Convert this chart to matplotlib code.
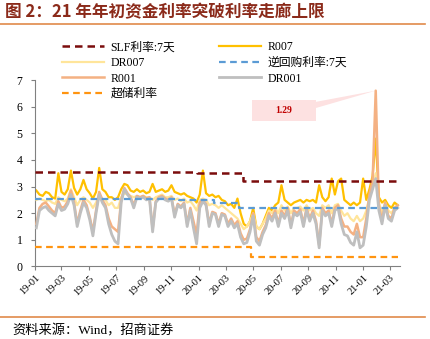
import matplotlib
matplotlib.use("Agg")
import matplotlib.pyplot as plt
import matplotlib.dates as mdates
from matplotlib.patches import Rectangle, Polygon
import pandas as pd
import numpy as np

plt.rcParams['font.family'] = ['Liberation Serif', 'Noto Sans CJK SC']

# ---------------- data (weekly readings, %) ----------------
start_date = "2019-01-04"
n_weeks = 116

r007 = [2.85, 2.7, 2.65, 2.8, 2.75, 2.6, 2.55, 3.5, 2.8, 2.7,
        2.9, 3.6, 2.95, 2.7, 2.9, 3.25, 2.9, 2.75, 2.55, 2.8,
        3.7, 2.9, 2.8, 2.6, 2.6, 2.5, 2.6, 2.9, 3.1, 3.05,
        2.85, 2.8, 2.9, 2.8, 2.85, 2.75, 2.8, 3.1, 2.8, 2.85,
        2.9, 2.8, 2.85, 3.05, 2.8, 2.75, 2.7, 2.75, 2.65, 2.6,
        2.55, 2.4, 2.7, 3.6, 2.75, 2.65, 2.7, 2.6, 2.65, 2.5,
        2.45, 2.3, 2.35, 2.2, 2.55, 2.0, 1.6, 1.5, 1.7, 2.2,
        1.5, 1.4, 1.6, 1.9, 2.2, 2.1, 2.3, 2.4, 3.05, 2.5,
        2.4, 2.3, 2.4, 2.45, 2.5, 2.4, 2.5, 2.45, 2.5, 2.4,
        3.05, 2.6, 2.45, 2.6, 3.3, 2.7, 3.2, 3.3, 2.5, 2.4,
        2.3, 2.4, 2.3, 2.4, 3.3, 2.5, 2.9, 3.4, 4.8, 2.6,
        2.4, 2.5, 2.3, 2.2, 2.4, 2.3]

dr007 = [2.5, 2.55, 2.5, 2.45, 2.5, 2.4, 2.35, 2.6, 2.5, 2.45,
         2.55, 2.9, 2.6, 2.3, 2.5, 2.6, 2.5, 2.4, 2.2, 2.4,
         2.7, 2.55, 2.5, 2.3, 2.4, 2.2, 2.2, 2.6, 2.75, 2.7,
         2.65, 2.6, 2.65, 2.6, 2.65, 2.6, 2.6, 2.5, 2.6, 2.65,
         2.7, 2.6, 2.6, 2.65, 2.5, 2.55, 2.45, 2.55, 2.4, 2.45,
         2.3, 2.1, 2.5, 2.55, 2.5, 2.3, 2.35, 2.3, 2.2, 2.3,
         2.2, 2.1, 2.0, 1.9, 1.8, 1.6, 1.4, 1.5, 1.7, 2.0,
         1.5, 1.4, 1.6, 1.8, 2.1, 2.0, 2.2, 2.0, 2.3, 2.1,
         2.25, 2.0, 2.2, 2.2, 2.25, 2.1, 2.3, 2.1, 2.2, 2.0,
         1.9, 2.3, 2.2, 2.3, 2.0, 2.3, 2.35, 2.1, 1.9, 2.0,
         1.8, 1.7, 1.9, 1.7, 1.8, 2.1, 2.6, 3.0, 3.5, 2.4,
         2.0, 2.4, 2.1, 2.0, 2.2, 2.2]

r001 = [1.6, 2.2, 2.35, 2.4, 2.25, 2.1, 2.0, 2.45, 2.2, 2.25,
        2.45, 2.85, 2.4, 1.6, 2.1, 2.5, 2.3, 1.85, 1.3, 2.1,
        2.8, 2.5, 2.3, 1.8, 1.5, 1.4, 1.3, 2.5, 2.95, 2.75,
        2.6, 2.3, 2.65, 2.6, 2.65, 2.55, 2.6, 1.4, 2.45, 2.6,
        2.65, 2.55, 2.5, 2.6, 1.95, 2.35, 2.25, 2.4, 1.6, 2.2,
        1.7, 1.2, 2.4, 2.5, 2.35, 1.6, 2.05, 2.0, 1.6, 2.0,
        1.95, 1.6, 1.8, 1.55, 1.7, 1.25, 1.0, 1.05, 1.4, 2.0,
        1.1, 0.95, 1.3, 1.55, 2.0, 1.8, 2.1, 1.6, 2.1, 1.9,
        2.2, 1.55, 2.1, 2.0, 2.15, 1.6, 2.2, 1.8, 2.1, 1.7,
        0.8, 2.2, 2.0, 2.1, 1.6, 2.2, 2.3, 1.8, 1.5, 1.5,
        1.3, 1.2, 1.6, 1.1, 1.1, 1.8, 2.7, 3.2, 6.6, 2.3,
        1.7, 2.4, 1.9, 1.8, 2.2, 2.3]

dr001 = [1.45, 2.1, 2.2, 2.25, 2.1, 2.0, 1.9, 2.35, 2.1, 2.15,
         2.35, 2.7, 2.3, 1.5, 2.0, 2.4, 2.2, 1.75, 1.15, 2.0,
         2.7, 2.4, 2.2, 1.6, 1.2, 0.95, 0.85, 2.4, 2.9, 2.7,
         2.55, 2.2, 2.6, 2.55, 2.6, 2.5, 2.55, 1.3, 2.4, 2.55,
         2.6, 2.5, 2.45, 2.55, 1.85, 2.3, 2.2, 2.35, 1.5, 2.1,
         1.45, 0.85, 2.2, 2.45, 2.3, 1.5, 2.0, 1.95, 1.5, 1.95,
         1.9, 1.5, 1.7, 1.45, 1.6, 1.1, 0.85, 0.9, 1.3, 1.9,
         0.95, 0.8, 1.2, 1.45, 1.9, 1.7, 2.0, 1.5, 2.0, 1.8,
         2.1, 1.45, 2.0, 1.9, 2.05, 1.5, 2.1, 1.7, 2.0, 1.6,
         0.7, 2.1, 1.9, 2.0, 1.5, 2.1, 2.2, 1.6, 1.2, 1.15,
         0.9, 0.8, 1.3, 0.7, 0.8, 1.5, 2.5, 2.9, 3.3, 2.1,
         1.6, 2.3, 1.8, 1.7, 2.1, 2.2]

# policy rates (step changes)
slf_dates = ["2019-01-01", "2019-12-27", "2020-04-08"]
slf_vals = [3.55, 3.5, 3.2]
rr_dates = ["2019-01-01", "2019-11-18", "2020-02-03", "2020-03-31"]
rr_vals = [2.55, 2.5, 2.4, 2.2]
er_dates = ["2019-01-01", "2020-04-27"]
er_vals = [0.72, 0.35]
end_date = "2021-03-19"

tick_labels = ["19-01", "19-03", "19-05", "19-07", "19-09", "19-11", "20-01",
               "20-03", "20-05", "20-07", "20-09", "20-11", "21-01", "21-03"]
annot_text = "1.29"

# ---------------- figure ----------------
dates = pd.date_range(start_date, periods=n_weeks, freq="7D")

fig = plt.figure(figsize=(4.31, 3.39), dpi=100)
ax = fig.add_axes([0.0812, 0.2139, 0.8468, 0.5501])

def step_series(ds, vs):
    x = list(pd.to_datetime(ds)) + [pd.Timestamp(end_date)]
    y = list(vs) + [vs[-1]]
    return x, y

c_slf = "#7B0C0C"
c_r007 = "#FFC000"
c_dr007 = "#FFE59A"
c_rr = "#5B9BD5"
c_r001 = "#F4B183"
c_dr001 = "#BFBFBF"
c_er = "#FF9410"

h_r007, = ax.plot(dates, r007, color=c_r007, lw=1.6, zorder=2)
h_dr007, = ax.plot(dates, dr007, color=c_dr007, lw=1.6, zorder=3)
h_r001, = ax.plot(dates, r001, color=c_r001, lw=1.8, zorder=4)
h_dr001, = ax.plot(dates, dr001, color=c_dr001, lw=2.0, zorder=5)

x, y = step_series(slf_dates, slf_vals)
h_slf, = ax.plot(x, y, color=c_slf, lw=1.8, ls=(0, (3, 2)), drawstyle="steps-post", zorder=6)
x, y = step_series(rr_dates, rr_vals)
h_rr, = ax.plot(x, y, color=c_rr, lw=1.6, ls=(0, (3, 2)), drawstyle="steps-post", zorder=6)
x, y = step_series(er_dates, er_vals)
h_er, = ax.plot(x, y, color=c_er, lw=1.6, ls=(0, (3, 2)), drawstyle="steps-post", zorder=6)

ax.set_ylim(0, 7)
ax.set_yticks(range(0, 8))
ax.set_xlim(pd.Timestamp("2019-01-01"), pd.Timestamp("2021-03-24"))
ticks = [pd.Timestamp("20" + t[:2] + "-" + t[3:] + "-01") for t in tick_labels]
ax.set_xticks(ticks)
ax.set_xticklabels(tick_labels, rotation=45, ha="right", va="top",
                   rotation_mode="anchor", fontsize=7.5)
ax.tick_params(axis="y", labelsize=8.5, length=3, color="#808080", pad=6)
ax.tick_params(axis="x", length=3, color="#808080", pad=2)
for s in ["top", "right"]:
    ax.spines[s].set_visible(False)
for s in ["left", "bottom"]:
    ax.spines[s].set_color("#808080")
    ax.spines[s].set_linewidth(0.8)

# legend
handles = [h_slf, h_dr007, h_r001, h_er, h_r007, h_rr, h_dr001]
labels = ["SLF利率:7天", "DR007", "R001", "超储利率", "R007", "逆回购利率:7天", "DR001"]
fig.legend(handles, labels, ncol=2, loc="upper left", bbox_to_anchor=(0.13, 0.895),
           frameon=False, fontsize=8.5, handlelength=3.6, handletextpad=0.5,
           columnspacing=3.7, labelspacing=0.3, borderpad=0)

# annotation box for the R001 spike
peak_i = int(np.argmax(r001))
peak_x = dates[peak_i]
peak_y = r001[peak_i]
bx0, bx1 = pd.Timestamp("2020-04-28"), pd.Timestamp("2020-09-18")
by0, by1 = 5.47, 6.26
ax.add_patch(Rectangle((mdates.date2num(bx0), by0), mdates.date2num(bx1) - mdates.date2num(bx0),
                       by1 - by0, facecolor="#FDE1E1", edgecolor="none", zorder=7, clip_on=False))
ax.add_patch(Polygon([(mdates.date2num(bx1), 6.18), (mdates.date2num(bx1), 5.95),
                      (mdates.date2num(peak_x), peak_y)],
                     closed=True, facecolor="#FDE1E1", edgecolor="none", zorder=1, clip_on=False))
ax.text(mdates.date2num(bx0) + (mdates.date2num(bx1) - mdates.date2num(bx0)) / 2, (by0 + by1) / 2,
        annot_text, color="#C00000", fontsize=7, fontweight="bold", ha="center", va="center", zorder=8)

# title and source
fig.text(0.012, 0.963, "图 2：21 年年初资金利率突破利率走廊上限", fontsize=12, fontweight="bold",
         color="#8B2A1A", ha="left", va="center", family=["Noto Sans CJK SC"])
fig.add_artist(plt.Line2D([0, 0.986], [0.929, 0.929], color="#E08A4A", lw=1.2))
fig.add_artist(plt.Line2D([0, 0.986], [0.065, 0.065], color="#E08A4A", lw=1.2))
fig.text(0.028, 0.024, "资料来源：Wind，招商证券", fontsize=9.5, ha="left", va="center",
         family=["Liberation Serif", "Noto Sans CJK SC"])

fig.savefig("out.png", dpi=100)
